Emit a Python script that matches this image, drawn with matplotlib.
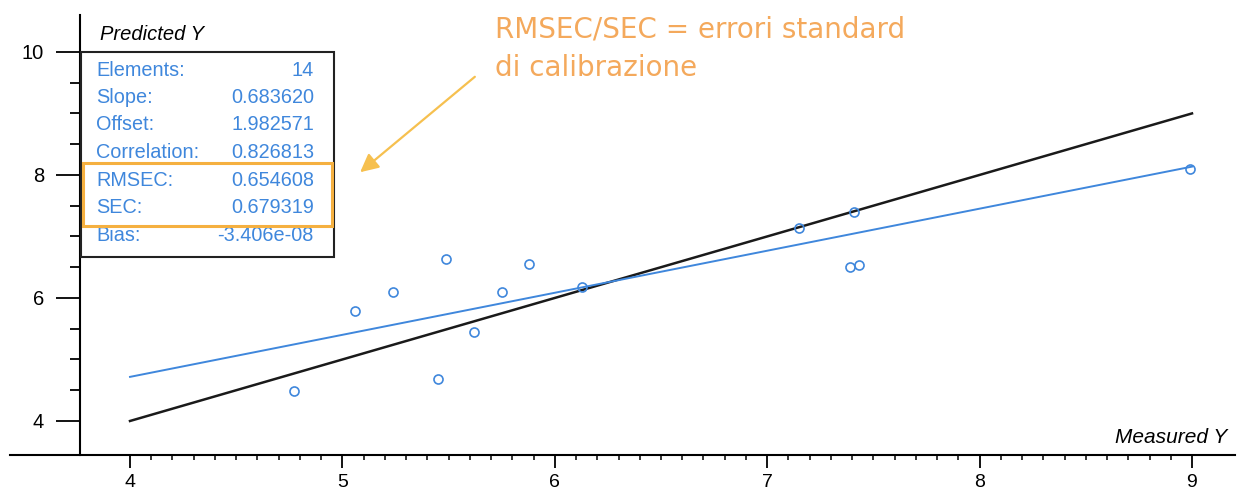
import matplotlib.pyplot as plt
from matplotlib.patches import Rectangle
from matplotlib.ticker import FixedLocator

# measured vs predicted values
measured = [4.77, 5.06, 5.24, 5.49, 5.45, 5.62, 5.75, 5.88, 6.13, 7.15, 7.41, 7.39, 7.43, 8.99]
predicted = [4.48, 5.79, 6.09, 6.63, 4.68, 5.45, 6.09, 6.56, 6.18, 7.14, 7.40, 6.51, 6.54, 8.10]

# regression statistics shown in the box
stat_names = ["Elements:", "Slope:", "Offset:", "Correlation:", "RMSEC:", "SEC:", "Bias:"]
stat_values = ["14", "0.683620", "1.982571", "0.826813", "0.654608", "0.679319", "-3.406e-08"]
slope = 0.683620
offset = 1.982571
line_x = [4, 9]

W, H = 1241, 490
fig = plt.figure(figsize=(W / 100, H / 100), dpi=100)
ax = fig.add_axes([10 / W, 1 - 455 / H, 1225 / W, 440 / H])

# pixel -> figure fraction helper for the annotations
def fx(x, y):
    return (x / W, 1 - y / H)

blue = "#3f87dc"
orange_txt = "#f4a95c"
orange_arrow = "#f6c04f"

# identity line and fitted line
ax.plot(line_x, line_x, color="#1a1a1a", lw=1.8, zorder=2)
ax.plot(line_x, [slope * v + offset for v in line_x], color=blue, lw=1.4, zorder=2)
ax.plot(measured, predicted, "o", mfc="none", mec=blue, ms=6.5, mew=1.2, zorder=3)

ax.set_xlim(3.435, 9.2025)
ax.set_ylim(3.447, 10.60)

for s in ["top", "right"]:
    ax.spines[s].set_visible(False)
ax.spines["left"].set_position(("data", 3.7646))
ax.spines["left"].set_linewidth(1.5)
ax.spines["bottom"].set_linewidth(1.5)

ax.set_xticks([4, 5, 6, 7, 8, 9])
ax.xaxis.set_minor_locator(FixedLocator([4 + i / 10 for i in range(1, 50) if i % 10]))
ax.set_yticks([4, 6, 8, 10])
ax.yaxis.set_minor_locator(FixedLocator([4.5, 5, 5.5, 6.5, 7, 7.5, 8.5, 9, 9.5]))
ax.tick_params(axis="x", which="major", length=9.5, width=1.3, direction="out", pad=4,
               labelsize=14, labelfontfamily="Liberation Sans")
ax.tick_params(axis="x", which="minor", length=3.8, width=1.1, direction="out")
ax.tick_params(axis="y", which="major", length=17, width=1.3, direction="out", pad=9,
               labelsize=14.5, labelfontfamily="Liberation Sans")
ax.tick_params(axis="y", which="minor", length=7, width=1.3, direction="out")

# axis titles
fig.text(*fx(100, 34), "Predicted Y", style="italic", fontsize=14.5, family="Liberation Sans",
         va="center", ha="left")
fig.text(*fx(1227, 437), "Measured Y", style="italic", fontsize=15, family="Liberation Sans",
         va="center", ha="right")

# stats box
x0, y0 = fx(81, 257)
x1, y1 = fx(334, 52)
fig.add_artist(Rectangle((x0, y0), x1 - x0, y1 - y0, transform=fig.transFigure,
                         fill=True, fc="white", ec="#222222", lw=1.5, zorder=4))
for i, (name, val) in enumerate(zip(stat_names, stat_values)):
    ypx = 70 + i * 27.5
    fig.text(*fx(96, ypx), name, color=blue, fontsize=14.3, family="Liberation Sans",
             va="center", ha="left", zorder=5)
    fig.text(*fx(314, ypx), val, color=blue, fontsize=14.3, family="Liberation Sans",
             va="center", ha="right", zorder=5)

hx0, hy0 = fx(83, 226)
hx1, hy1 = fx(332, 163)
fig.add_artist(Rectangle((hx0, hy0), hx1 - hx0, hy1 - hy0, transform=fig.transFigure,
                         fill=False, ec="#f5b040", lw=2.2, zorder=6))

# orange note with arrow
fig.text(*fx(495, 30), "RMSEC/SEC = errori standard", color=orange_txt, fontsize=20,
         family="DejaVu Sans", va="center", ha="left")
fig.text(*fx(495, 68), "di calibrazione", color=orange_txt, fontsize=20,
         family="DejaVu Sans", va="center", ha="left")
ax.annotate("", xy=fx(358, 174), xytext=fx(477, 75),
            xycoords="figure fraction", textcoords="figure fraction",
            arrowprops=dict(arrowstyle="-|>,head_length=1.1,head_width=0.55",
                            color=orange_arrow, lw=1.6))

fig.savefig("out.png", dpi=100)
